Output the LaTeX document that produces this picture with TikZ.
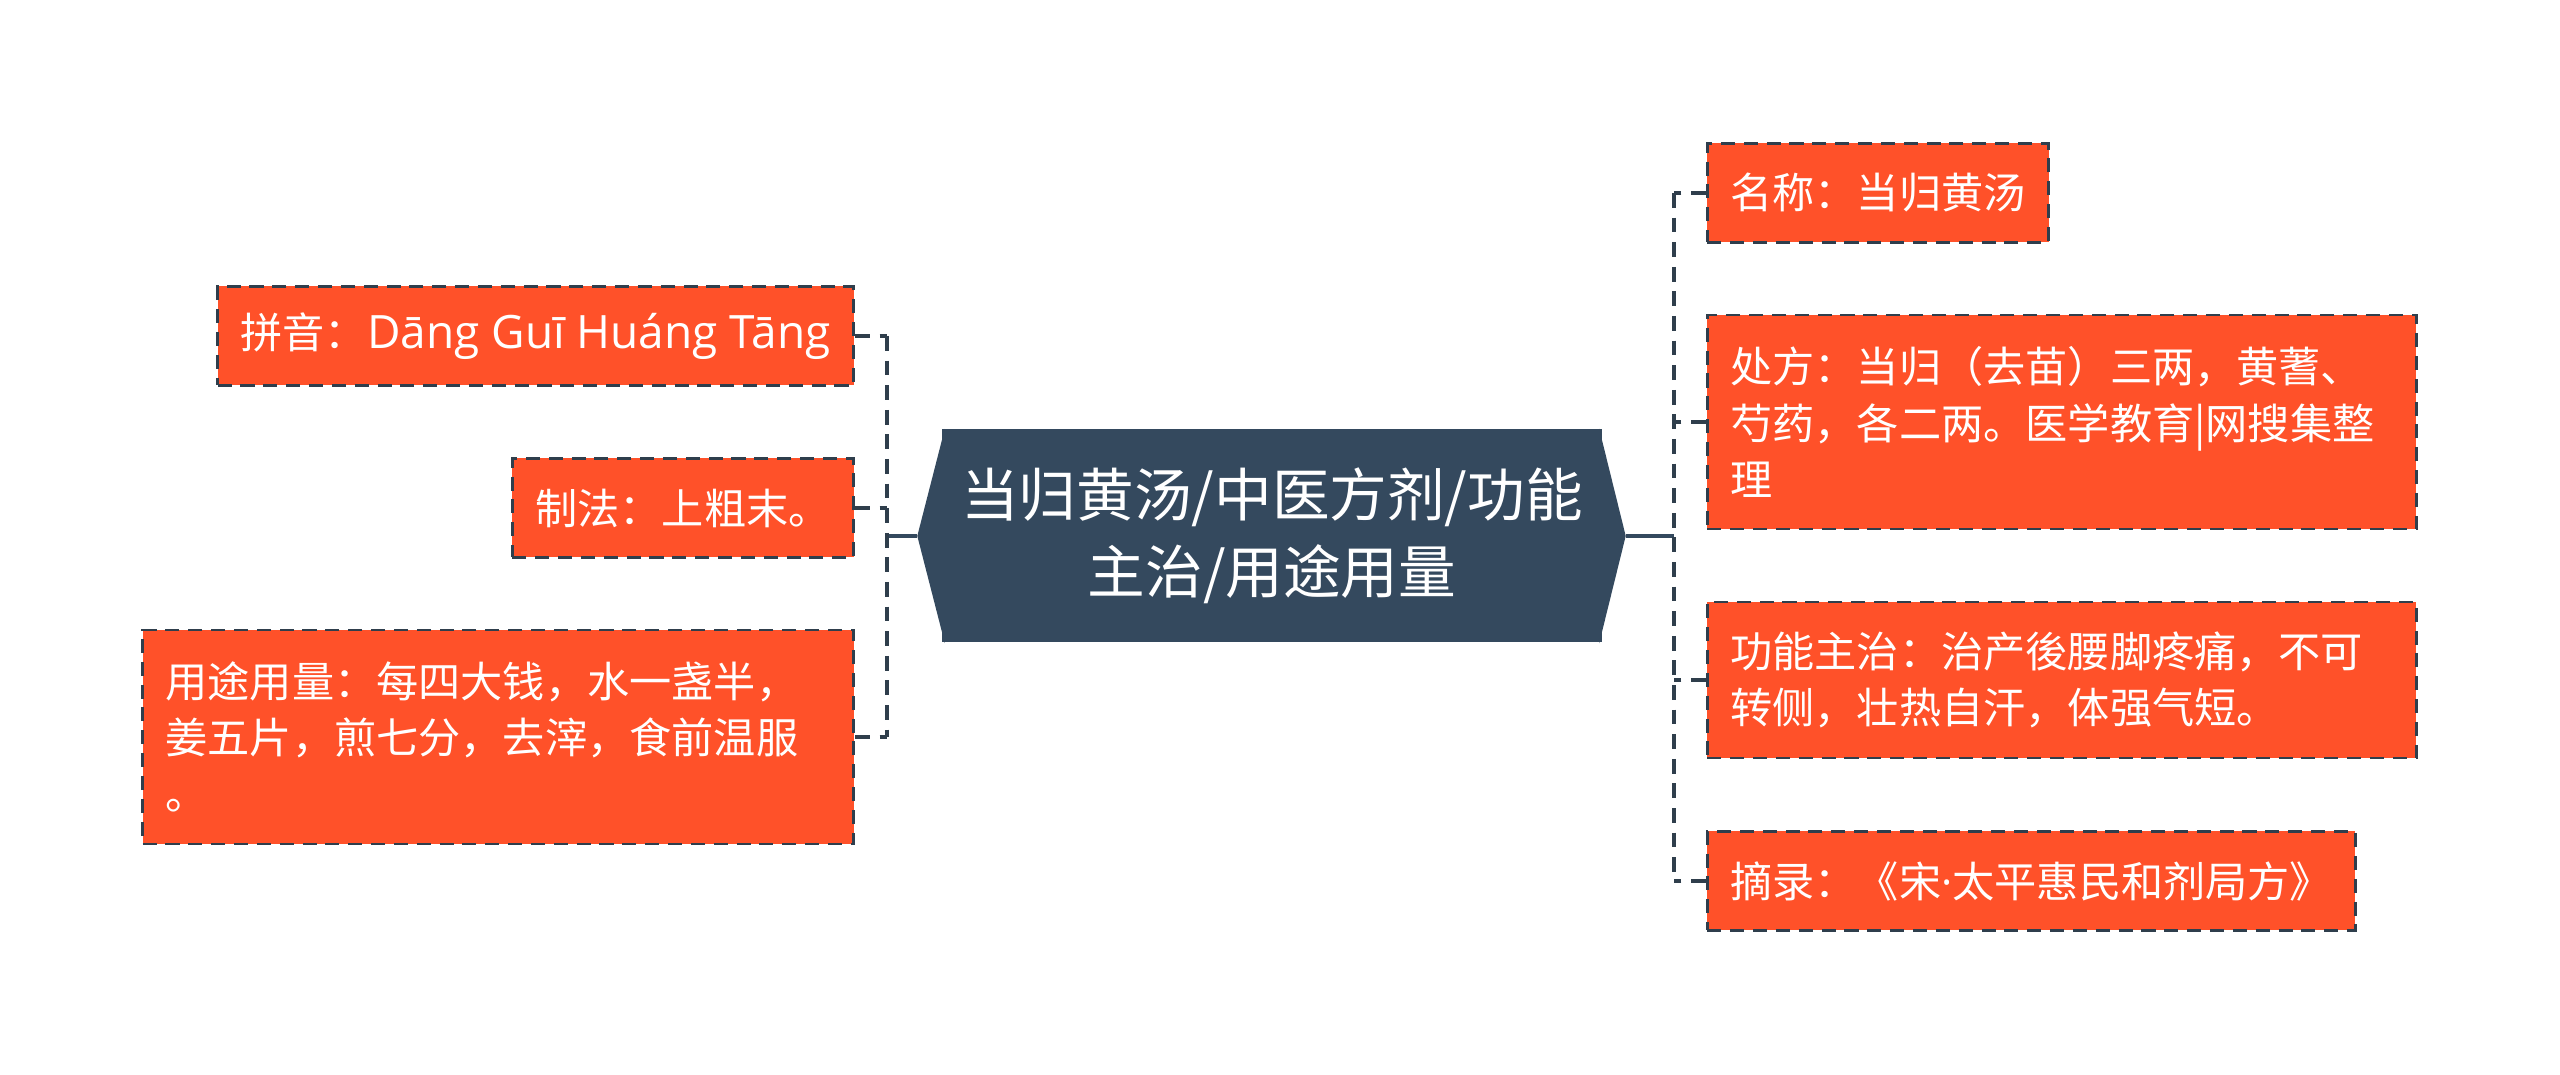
\documentclass[tikz,border=0pt]{standalone}
\usepackage{fontspec}
\setmainfont{Noto Sans CJK SC}
\newfontfamily\latinfont[Scale=1.09]{Open Sans}
\newfontfamily\dotfont{Open Sans}
\usepackage{xcolor}
\usepackage{tikz}

\definecolor{leafred}{HTML}{FF5129}
\definecolor{rootblue}{HTML}{34495E}
\definecolor{linegray}{HTML}{2F3E4C}

\begin{document}
\begin{tikzpicture}[
  leaf/.style={draw=linegray, line width=0.8pt, dash pattern=on 4pt off 2.5pt,
    fill=leafred, text=white, font=\fontsize{12pt}{16pt}\selectfont,
    inner xsep=0.23cm, inner ysep=0pt, minimum height=0.99cm},
  leafwide/.style={leaf, align=left, text width=6.63cm},
  rootbox/.style={fill=rootblue, text=white, align=center,
    font=\fontsize{16.4pt}{21.8pt}\selectfont,
    minimum width=6.6cm, minimum height=2.13cm, inner sep=0pt},
  link/.style={draw=linegray, line width=1.2pt, dash pattern=on 4.2pt off 2.8pt},
  stem/.style={draw=rootblue, line width=1.2pt}
]
\useasboundingbox (0,0) rectangle (25.6,10.75);

% centre
\node[rootbox] (root) at (12.72,5.39) {当归黄汤/中医方剂/功能\\主治/用途用量};
\coordinate (rootl) at ([xshift=-0.24cm]root.west);
\coordinate (rootr) at ([xshift=0.23cm]root.east);
\fill[rootblue] ([xshift=1pt]root.north west) -- (rootl) -- ([xshift=1pt]root.south west) -- cycle;
\fill[rootblue] ([xshift=-1pt]root.north east) -- (rootr) -- ([xshift=-1pt]root.south east) -- cycle;

% left side
\node[leaf, anchor=east] (pinyin) at (8.55,7.39) {拼音：{\latinfont Dāng Guī Huáng Tāng}};
\node[leaf, anchor=east] (zhifa) at (8.55,5.67) {制法：上粗末。};
\node[leafwide, anchor=east, text width=6.65cm, minimum height=2.14cm] (yongtu) at (8.55,3.38)
  {用途用量：每四大钱，水一盏半，\\姜五片，煎七分，去滓，食前温服\\。};

% right side
\node[leaf, anchor=west] (mingcheng) at (17.06,8.82) {名称：当归黄汤};
\node[leafwide, anchor=west, minimum height=2.14cm] (chufang) at (17.06,6.53)
  {处方：当归（去苗）三两，黄蓍、\\芍药，各二两。医学教育|网搜集整\\理};
\node[leafwide, anchor=west, minimum height=1.56cm] (gongneng) at (17.06,3.95)
  {功能主治：治产後腰脚疼痛，不可\\转侧，壮热自汗，体强气短。};
\node[leaf, anchor=west] (zhailu) at (17.06,1.94) {摘录：《宋{\dotfont ·}太平惠民和剂局方》};

% connectors
\coordinate (lbus) at (8.87,5.39);
\coordinate (rbus) at (16.74,5.39);
\draw[stem] (rootl) -- (lbus);
\draw[stem] (rootr) -- (rbus);

\draw[link] (pinyin.east -| lbus) -- (yongtu.east -| lbus);
\foreach \n in {pinyin,zhifa,yongtu}{
\draw[link] (\n.east) -- (\n.east -| lbus);
}

\draw[link] (mingcheng.west -| rbus) -- (zhailu.west -| rbus);
\foreach \n in {mingcheng,chufang,gongneng,zhailu}{
\draw[link] (\n.west) -- (\n.west -| rbus);
}

\end{tikzpicture}
\end{document}
